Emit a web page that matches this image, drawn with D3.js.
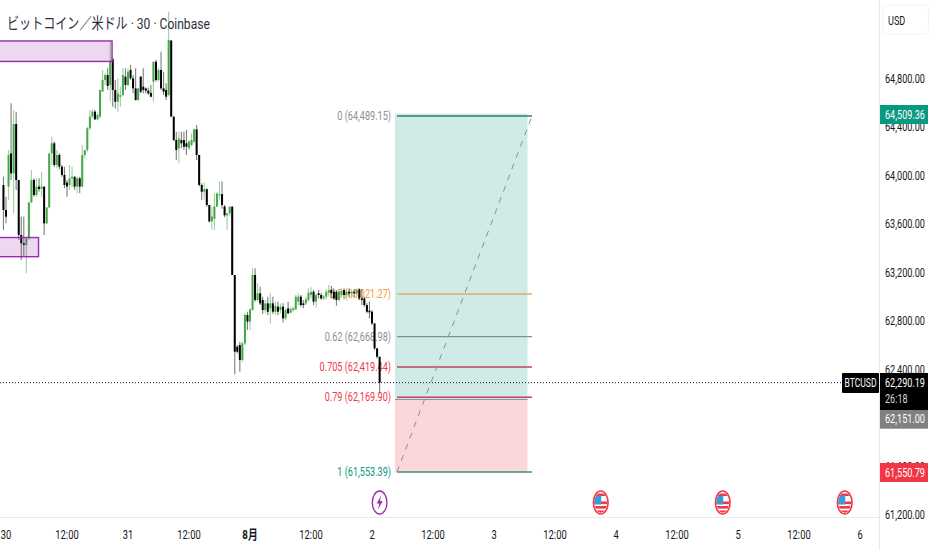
<!DOCTYPE html>
<html><head><meta charset="utf-8">
<script src="https://cdn.jsdelivr.net/npm/d3@7/dist/d3.min.js"></script>
<style>html,body{margin:0;padding:0;background:#fff;overflow:hidden}svg{display:block}text{font-family:Roboto,"Noto Sans CJK JP",sans-serif}</style>
</head><body><svg id="c" width="932" height="550"></svg>
<script>
// ---- data ----
const title = "ビットコイン／米ドル · 30 · Coinbase";
const opens = [63920,63714,63907,64181,64016,64423,63962,63508,63439,63425,63480,63777,63962,63838,63907,63887,63907,63604,63736,64181,64264,64085,64168,64071,64003,63940,63920,63975,63989,63907,63975,63907,64168,64209,64388,64484,64525,64462,64484,64690,64786,64827,64745,64957,64704,64607,64648,64662,64814,64745,64869,64800,64717,64621,64814,64731,64717,64698,64680,64772,64937,64786,64869,64717,64704,64662,65111,64484,64291,64223,64291,64291,64264,64223,64250,64278,64379,64168,63920,63865,63885,63755,63620,63640,63742,63845,63845,63742,63670,63687,63742,63178,62586,62600,62477,62614,62848,62793,62889,63178,62972,63027,62972,62889,62944,62903,62944,62875,62917,62889,62917,62820,62903,62867,62889,62895,62958,62999,62944,62944,62972,63013,63040,62958,63027,63013,62985,62999,63032,63054,63040,63040,62972,63013,63054,63013,63040,63027,63040,63027,63060,62985,62985,62930,62884,62875,62779,62573,62504];
const closes = [63714,63659,64168,64016,64423,63962,63508,63439,63425,63480,63777,63962,63838,63907,63887,63907,63604,63736,64181,64264,64085,64168,64071,64003,63920,63907,63975,63989,63907,63975,63907,64168,64209,64388,64484,64525,64462,64498,64704,64786,64827,64737,64937,64704,64607,64676,64662,64827,64745,64855,64800,64717,64621,64717,64690,64704,64698,64676,64648,64937,64786,64869,64717,64690,64648,65116,64484,64291,64209,64305,64264,64236,64236,64278,64291,64379,64168,63920,63865,63885,63755,63620,63660,63742,63850,63845,63755,63670,63687,63742,63178,62545,62545,62477,62614,62848,62793,62895,63178,62972,63027,62944,62889,62944,62875,62944,62875,62922,62875,62917,62820,62889,62862,62895,62903,62999,62999,62930,62930,62977,63032,63040,62958,63013,63013,62985,62999,63040,63054,63027,62985,62972,63040,63048,63013,63040,63027,63040,63027,63054,62985,62972,62930,62875,62870,62779,62573,62504,62290.19];
const highs = [63989,63824,64209,64594,64539,64525,63962,63659,63659,63494,63777,64044,63975,63975,63975,64030,63907,63736,64181,64319,64278,64209,64182,64085,64071,63962,64085,64071,63989,63989,63989,64250,64209,64401,64539,64544,64539,64511,64704,64869,64841,64882,65102,64965,64786,64800,64731,64882,64882,64882,64910,64827,64882,64717,64814,64882,64725,64725,64745,64937,64951,64882,65020,64855,64759,65350,65116,64484,64360,64360,64360,64360,64374,64291,64346,64388,64415,64168,63934,63940,63893,63755,63740,63850,63860,63950,63950,63755,63687,63742,63742,63178,62600,62628,62628,62862,62875,62903,63233,63233,63109,63082,62999,62972,62999,63027,62999,62958,62958,62944,62944,62903,62958,62917,62917,63013,63027,63013,62972,62999,63068,63076,63054,63027,63054,63032,63013,63060,63095,63087,63068,63054,63054,63068,63068,63060,63068,63054,63060,63068,63068,63060,62999,62944,62958,62889,62779,62573,62504];
const lows = [63549,63604,63797,63962,63687,63879,63467,63302,63329,63192,63467,63769,63824,63824,63865,63824,63508,63599,63728,64085,64071,64058,64050,63989,63893,63824,63879,63900,63879,63852,63852,63900,64140,64195,64374,64470,64456,64456,64470,64690,64745,64704,64607,64566,64552,64525,64566,64649,64704,64737,64786,64676,64616,64610,64676,64676,64676,64662,64643,64607,64772,64772,64704,64662,64621,64649,64484,64280,64126,64099,64223,64209,64168,64209,64236,64264,64126,63907,63797,63800,63740,63610,63555,63550,63740,63800,63725,63655,63550,63660,63178,62359,62532,62381,62463,62600,62724,62724,62884,62958,62958,62930,62856,62862,62848,62779,62856,62848,62848,62862,62787,62807,62856,62862,62875,62889,62930,62917,62903,62930,62958,62985,62930,62911,62985,62972,62972,62977,62999,62985,62972,62925,62958,62999,62977,62985,62999,62999,62999,63013,62972,62930,62917,62862,62820,62765,62560,62490,62202];
const firstCandleUTC = Date.UTC(2024,6,29,23,30);
const zoneTop = {x0:Date.UTC(2024,6,29,18), x1:Date.UTC(2024,6,30,20,52), top:65108, bottom:64939};
const zoneBottom = {x0:Date.UTC(2024,6,29,18), x1:Date.UTC(2024,6,30,6,24), top:63487, bottom:63329};
const fibRatios = ["0","0.5","0.62","0.705","0.79","1"];
const fibPrices = [64489.15,63021.27,62668.98,62419.44,62169.90,61553.39];
const fibTextColors = ["#8a8f98","#f59d3d","#8a8f98","#f23645","#f23645","#089981"];
const fibLineColors = ["#2f7f72","#eaa860","#7f9292","#c7405e","#c7405e","#3d9183"];
const targetPrice = 64509.36, entryPrice = 62151.00, stopPrice = 61550.79, lastPrice = 62290.19;
const priceTicks = [64800,64400,64000,63600,63200,62800,62400,62000,61600,61200];
const timeTicks = [
 [Date.UTC(2024,6,30,0),"30"],[Date.UTC(2024,6,30,12),"12:00"],[Date.UTC(2024,6,31,0),"31"],[Date.UTC(2024,6,31,12),"12:00"],
 [Date.UTC(2024,7,1,0),"8月"],[Date.UTC(2024,7,1,12),"12:00"],[Date.UTC(2024,7,2,0),"2"],[Date.UTC(2024,7,2,12),"12:00"],
 [Date.UTC(2024,7,3,0),"3"],[Date.UTC(2024,7,3,12),"12:00"],[Date.UTC(2024,7,4,0),"4"],[Date.UTC(2024,7,4,12),"12:00"],
 [Date.UTC(2024,7,5,0),"5"],[Date.UTC(2024,7,5,12),"12:00"],[Date.UTC(2024,7,6,0),"6"]];
const lightningEvents = [Date.UTC(2024,7,2,1,30)];
const usEvents = [Date.UTC(2024,7,3,21),Date.UTC(2024,7,4,21),Date.UTC(2024,7,5,21)];

// ---- scales ----
const W=932,H=550,axisX=879.5,axisY=517.5;
const x=d3.scaleUtc().domain([Date.UTC(2024,6,30,0),Date.UTC(2024,7,6,0)]).range([6,860]);
const y=d3.scaleLinear().domain([61553.39,64489.15]).range([472,116]);
const fmt=d3.format(",.2f");
const svg=d3.select("#c");
const NARROW=0.70;
function label(g,txt,px,py,opt={}){
  return g.append("text").attr("transform",`translate(${px},${py}) scale(${opt.squeeze||NARROW},1)`).text(txt)
   .attr("font-size",opt.size||13).attr("fill",opt.fill||"#131722")
   .attr("text-anchor",opt.anchor||"start").attr("dominant-baseline","central")
   .attr("font-weight",opt.weight||400);
}
svg.append("defs").append("clipPath").attr("id","pane").append("rect").attr("x",0).attr("y",0).attr("width",axisX).attr("height",axisY);
const pane=svg.append("g").attr("clip-path","url(#pane)");

// position tool
const toolX0=395,toolX1=527.5;
pane.append("rect").attr("x",toolX0).attr("width",toolX1-toolX0).attr("y",y(targetPrice)).attr("height",y(entryPrice)-y(targetPrice)).attr("fill","#d0ebe5");
pane.append("rect").attr("x",toolX0).attr("width",toolX1-toolX0).attr("y",y(entryPrice)).attr("height",y(stopPrice)-y(entryPrice)).attr("fill","#fcd7da");
pane.append("line").attr("x1",toolX0).attr("x2",toolX1).attr("y1",y(entryPrice)).attr("y2",y(entryPrice)).attr("stroke","#8a8f98").attr("stroke-width",1);

// fib lines + labels
const fibX0=397,fibX1=532;
fibPrices.forEach((p,i)=>{
  pane.append("line").attr("x1",fibX0).attr("x2",fibX1).attr("y1",y(p)).attr("y2",y(p)).attr("stroke",fibLineColors[i]).attr("stroke-width",1.3);
  label(pane,`${fibRatios[i]} (${fmt(p)})`,391,y(p),{anchor:"end",fill:fibTextColors[i],size:13,squeeze:0.70});
});
pane.append("line").attr("x1",fibX0).attr("y1",y(fibPrices[5])).attr("x2",fibX1).attr("y2",y(fibPrices[0]))
 .attr("stroke","#8a8f98").attr("stroke-width",1).attr("stroke-dasharray","6 6");

// candles
const UP="#43a847",DOWN="#000";
const candles=d3.range(opens.length).map(i=>({t:firstCandleUTC+i*18e5,o:opens[i],c:closes[i],h:highs[i],l:lows[i]}));
const cg=pane.append("g");
cg.selectAll("line").data(candles).join("line")
 .attr("x1",d=>x(d.t)).attr("x2",d=>x(d.t)).attr("y1",d=>y(d.h)).attr("y2",d=>y(d.l))
 .attr("stroke",d=>d.c>=d.o?"#6fbf73":"#444").attr("stroke-opacity",0.7).attr("stroke-width",1.1);
cg.selectAll("rect").data(candles).join("rect")
 .attr("x",d=>x(d.t)-1).attr("width",2)
 .attr("y",d=>y(Math.max(d.o,d.c))).attr("height",d=>Math.max(1.2,Math.abs(y(d.o)-y(d.c))))
 .attr("fill",d=>d.c>=d.o?UP:DOWN);

// zones
[zoneTop,zoneBottom].forEach(z=>{
  pane.append("rect").attr("x",x(z.x0)).attr("width",x(z.x1)-x(z.x0)).attr("y",y(z.top)).attr("height",y(z.bottom)-y(z.top))
   .attr("fill","#9c27b0").attr("fill-opacity",0.18).attr("stroke","#9c27b0").attr("stroke-width",1.4);
});

// last price dotted
pane.append("line").attr("x1",0).attr("x2",842).attr("y1",y(lastPrice)).attr("y2",y(lastPrice)).attr("stroke","#131722").attr("stroke-width",1).attr("stroke-dasharray","1 2");

// events
const ey=502.5,erx=7.3,ery=11.5;
lightningEvents.forEach(t=>{
  const g=svg.append("g").attr("transform",`translate(${x(t)},${ey})`);
  g.append("ellipse").attr("rx",erx).attr("ry",ery).attr("fill","#fff").attr("stroke","#9c27b0").attr("stroke-width",1.3);
  g.append("path").attr("d","M1.5,-7 L-3,1 L-0.3,1 L-1.5,7 L3,-1.5 L0.3,-1.5 Z").attr("fill","#9c27b0");
});
const defs=svg.select("defs");
defs.append("clipPath").attr("id","flag").append("ellipse").attr("rx",erx-1).attr("ry",ery-1.2);
usEvents.forEach(t=>{
  const g=svg.append("g").attr("transform",`translate(${x(t)},${ey})`);
  g.append("ellipse").attr("rx",erx).attr("ry",ery).attr("fill","#fff").attr("stroke","#f23645").attr("stroke-width",1.6);
  const f=g.append("g").attr("clip-path","url(#flag)");
  [-9,-1,3.5,8].forEach((sy,i)=>f.append("rect").attr("x",-8).attr("width",16).attr("y",sy).attr("height",i==0?2.5:2.6).attr("fill","#f23645"));
  f.append("rect").attr("x",-8).attr("width",8.5).attr("y",-7).attr("height",9).attr("fill","#3c9ad6");
});

// axes
svg.append("line").attr("x1",axisX).attr("x2",axisX).attr("y1",0).attr("y2",H).attr("stroke","#e6e8ee").attr("stroke-width",1);
svg.append("line").attr("x1",0).attr("x2",axisX).attr("y1",axisY).attr("y2",axisY).attr("stroke","#e6e8ee").attr("stroke-width",1.2);
const pa=svg.append("g");
priceTicks.forEach(p=>label(pa,fmt(p),885,y(p)+0.5));
const ta=svg.append("g");
timeTicks.forEach(([t,s])=>label(ta,s,x(t),534,{anchor:"middle",weight:s==="8月"?700:400,squeeze:s==="8月"?0.75:0.72}));

// title
label(svg,title,7,23,{size:15.5,squeeze:0.78,fill:"#2a2e39"});

// USD box
svg.append("rect").attr("x",882.5).attr("y",5).attr("width",46).attr("height",29).attr("rx",4).attr("fill","#fff").attr("stroke","#f0f3fa").attr("stroke-width",1);
label(svg,"USD",888,20.5);

// price tags
function tag(p,y0,h,fill,lines){
  svg.append("rect").attr("x",880).attr("width",48).attr("y",y0).attr("height",h).attr("fill",fill);
  lines.forEach(([s,yy,c])=>label(svg,s,885,yy,{fill:c||"#fff"}));
}
tag(targetPrice,105,19,"#089981",[[fmt(targetPrice),114.5]]);
tag(lastPrice,373,37,"#000",[[fmt(lastPrice),382.5],["26:18",399,"#d4d4d4"]]);
tag(entryPrice,410,18.7,"#808080",[[fmt(entryPrice),419]]);
tag(stopPrice,463,19,"#f23645",[[fmt(stopPrice),472.5]]);
svg.append("rect").attr("x",842).attr("y",373).attr("width",37).attr("height",20).attr("rx",1).attr("fill","#000");
label(svg,"BTCUSD",860.5,383,{anchor:"middle",fill:"#fff",squeeze:0.66});
</script></body></html>
